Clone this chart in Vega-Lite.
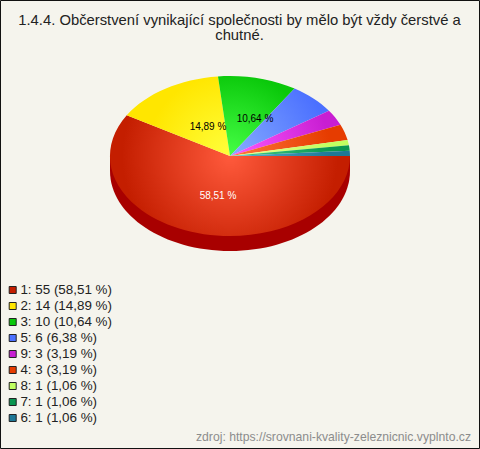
{
"$schema":"https://vega.github.io/schema/vega-lite/v6.json",
"width":479,"height":448,"autosize":"none","padding":{"left":0,"top":0,"right":1,"bottom":1},
"background":"#f5f4ed",
"config":{"view":{"stroke":"#111111","strokeWidth":1},"font":"Liberation Sans"},
"title":{"text":["1.4.4. Občerstvení vynikající společnosti by mělo být vždy čerstvé a","chutné."],"frame":"group","anchor":"middle","baseline":"top","dy":47,"font":"Liberation Sans","fontSize":14.8,"fontWeight":"normal","color":"#222222","lineHeight":15},
"data":{"values":[
{"answer":"1","count":55,"percent":58.51,"label":"1: 55 (58,51 %)"},
{"answer":"2","count":14,"percent":14.89,"label":"2: 14 (14,89 %)"},
{"answer":"3","count":10,"percent":10.64,"label":"3: 10 (10,64 %)"},
{"answer":"5","count":6,"percent":6.38,"label":"5: 6 (6,38 %)"},
{"answer":"9","count":3,"percent":3.19,"label":"9: 3 (3,19 %)"},
{"answer":"4","count":3,"percent":3.19,"label":"4: 3 (3,19 %)"},
{"answer":"8","count":1,"percent":1.06,"label":"8: 1 (1,06 %)"},
{"answer":"7","count":1,"percent":1.06,"label":"7: 1 (1,06 %)"},
{"answer":"6","count":1,"percent":1.06,"label":"6: 1 (1,06 %)"}
]},
"encoding":{"x":{"datum":0,"type":"quantitative","scale":{"domain":[-230,249],"nice":false,"zero":false},"axis":null},
 "y":{"datum":0,"type":"quantitative","scale":{"domain":[-292,156],"nice":false,"zero":false},"axis":null}},
"layer":[
{"transform":[{"filter":"datum.answer==='1'"}],"mark":{"type":"point","filled":true,"opacity":1,"size":4,"stroke":null,"fill":"#a80000","shape":"M-120,0L-120,15A120,80 0 0 0 120,15L120,0Z"}},
{"transform":[{"filter":"datum.answer==='1'"}],"mark":{"type":"point","filled":true,"opacity":1,"size":4,"stroke":null,"shape":"M-120,-80L-120,-80M120,80L120,80M0,0L120,0A120,80 0 1 1 -103.25,-40.77Z","fill":{"gradient":"radial","x1":0.5,"y1":0.5,"r1":0,"x2":0.5,"y2":0.5,"r2":0.45,"stops":[{"offset":0,"color":"#ff5a3c"},{"offset":1,"color":"#c41e00"}]}}},
{"transform":[{"filter":"datum.answer==='2'"}],"mark":{"type":"point","filled":true,"opacity":1,"size":4,"stroke":null,"shape":"M-120,-80L-120,-80M120,80L120,80M0,0L-103.25,-40.77A120,80 0 0 1 -12.01,-79.6Z","fill":{"gradient":"radial","x1":0.5,"y1":0.5,"r1":0,"x2":0.5,"y2":0.5,"r2":0.35,"stops":[{"offset":0,"color":"#ffff3c"},{"offset":1,"color":"#ffe600"}]}}},
{"transform":[{"filter":"datum.answer==='3'"}],"mark":{"type":"point","filled":true,"opacity":1,"size":4,"stroke":null,"shape":"M-120,-80L-120,-80M120,80L120,80M0,0L-12.01,-79.6A120,80 0 0 1 64.55,-67.44Z","fill":{"gradient":"radial","x1":0.5,"y1":0.5,"r1":0,"x2":0.5,"y2":0.5,"r2":0.35,"stops":[{"offset":0,"color":"#46ff46"},{"offset":1,"color":"#0ac80a"}]}}},
{"transform":[{"filter":"datum.answer==='5'"}],"mark":{"type":"point","filled":true,"opacity":1,"size":4,"stroke":null,"shape":"M-120,-80L-120,-80M120,80L120,80M0,0L64.55,-67.44A120,80 0 0 1 98.94,-45.27Z","fill":{"gradient":"radial","x1":0.5,"y1":0.5,"r1":0,"x2":0.5,"y2":0.5,"r2":0.42,"stops":[{"offset":0,"color":"#87acff"},{"offset":1,"color":"#4b70ff"}]}}},
{"transform":[{"filter":"datum.answer==='9'"}],"mark":{"type":"point","filled":true,"opacity":1,"size":4,"stroke":null,"shape":"M-120,-80L-120,-80M120,80L120,80M0,0L98.94,-45.27A120,80 0 0 1 110.47,-31.23Z","fill":{"gradient":"radial","x1":0.5,"y1":0.5,"r1":0,"x2":0.5,"y2":0.5,"r2":0.42,"stops":[{"offset":0,"color":"#ff5aff"},{"offset":1,"color":"#c81ed2"}]}}},
{"transform":[{"filter":"datum.answer==='4'"}],"mark":{"type":"point","filled":true,"opacity":1,"size":4,"stroke":null,"shape":"M-120,-80L-120,-80M120,80L120,80M0,0L110.47,-31.23A120,80 0 0 1 117.6,-15.94Z","fill":{"gradient":"radial","x1":0.5,"y1":0.5,"r1":0,"x2":0.5,"y2":0.5,"r2":0.42,"stops":[{"offset":0,"color":"#ff783c"},{"offset":1,"color":"#e63c00"}]}}},
{"transform":[{"filter":"datum.answer==='8'"}],"mark":{"type":"point","filled":true,"opacity":1,"size":4,"stroke":null,"shape":"M-120,-80L-120,-80M120,80L120,80M0,0L117.6,-15.94A120,80 0 0 1 118.93,-10.66Z","fill":{"gradient":"radial","x1":0.5,"y1":0.5,"r1":0,"x2":0.5,"y2":0.5,"r2":0.42,"stops":[{"offset":0,"color":"#f0ff90"},{"offset":1,"color":"#c0ff60"}]}}},
{"transform":[{"filter":"datum.answer==='7'"}],"mark":{"type":"point","filled":true,"opacity":1,"size":4,"stroke":null,"shape":"M-120,-80L-120,-80M120,80L120,80M0,0L118.93,-10.66A120,80 0 0 1 119.73,-5.34Z","fill":{"gradient":"radial","x1":0.5,"y1":0.5,"r1":0,"x2":0.5,"y2":0.5,"r2":0.42,"stops":[{"offset":0,"color":"#46d28c"},{"offset":1,"color":"#0a9650"}]}}},
{"transform":[{"filter":"datum.answer==='6'"}],"mark":{"type":"point","filled":true,"opacity":1,"size":4,"stroke":null,"shape":"M-120,-80L-120,-80M120,80L120,80M0,0L119.73,-5.34A120,80 0 0 1 120,0Z","fill":{"gradient":"radial","x1":0.5,"y1":0.5,"r1":0,"x2":0.5,"y2":0.5,"r2":0.42,"stops":[{"offset":0,"color":"#5ab4d2"},{"offset":1,"color":"#1e7896"}]}}},
{"mark":{"type":"point","filled":true,"opacity":0,"size":1},
 "encoding":{"color":{"field":"label","type":"nominal","sort":null,"scale":{"domain":["1: 55 (58,51 %)","2: 14 (14,89 %)","3: 10 (10,64 %)","5: 6 (6,38 %)","9: 3 (3,19 %)","4: 3 (3,19 %)","8: 1 (1,06 %)","7: 1 (1,06 %)","6: 1 (1,06 %)"],"range":["#c41e00","#ffe600","#0ac80a","#4b70ff","#c81ed2","#e63c00","#c0ff60","#0a9650","#1e7896"]},
 "legend":{"orient":"none","legendX":6,"legendY":282,"title":null,"symbolType":"square","symbolSize":49,"symbolOpacity":1,"symbolStrokeColor":"#222222","symbolStrokeWidth":1,"labelFont":"Liberation Sans","labelFontSize":13.4,"labelColor":"#222222","rowPadding":0,"labelOffset":1,"clipHeight":16,"labelLimit":200,"padding":0}}}},
{"mark":{"type":"text","font":"Liberation Sans","fontSize":10,"color":"#ffffff"},"transform":[{"filter":"datum.answer==='1'"}],"encoding":{"x":{"datum":-12,"type":"quantitative"},"y":{"datum":-40,"type":"quantitative"},"text":{"datum":"58,51 %"}}},
{"mark":{"type":"text","font":"Liberation Sans","fontSize":10,"color":"#000000"},"transform":[{"filter":"datum.answer==='2'"}],"encoding":{"x":{"datum":-22,"type":"quantitative"},"y":{"datum":29,"type":"quantitative"},"text":{"datum":"14,89 %"}}},
{"mark":{"type":"text","font":"Liberation Sans","fontSize":10,"color":"#000000"},"transform":[{"filter":"datum.answer==='3'"}],"encoding":{"x":{"datum":25,"type":"quantitative"},"y":{"datum":37,"type":"quantitative"},"text":{"datum":"10,64 %"}}},
{"mark":{"type":"text","font":"Liberation Sans","fontSize":12.2,"color":"#8c8c8c","align":"right"},"transform":[{"filter":"datum.answer==='1'"}],"encoding":{"x":{"datum":241,"type":"quantitative"},"y":{"datum":-281,"type":"quantitative"},"text":{"datum":"zdroj: https://srovnani-kvality-zeleznicnic.vyplnto.cz"}}}
]
}
